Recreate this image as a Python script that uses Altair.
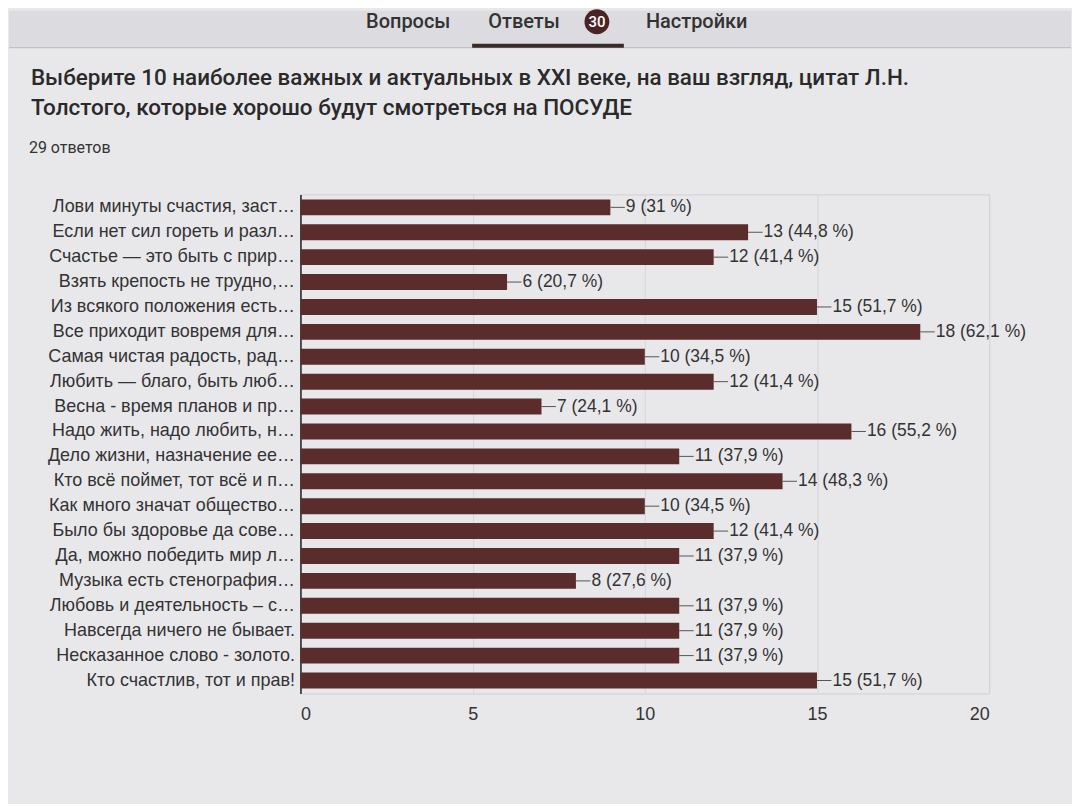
import altair as alt
import pandas as pd

labels = [
    "Лови минуты счастия, заст…",
    "Если нет сил гореть и разл…",
    "Счастье — это быть с прир…",
    "Взять крепость не трудно,…",
    "Из всякого положения есть…",
    "Все приходит вовремя для…",
    "Самая чистая радость, рад…",
    "Любить — благо, быть люб…",
    "Весна - время планов и пр…",
    "Надо жить, надо любить, н…",
    "Дело жизни, назначение ее…",
    "Кто всё поймет, тот всё и п…",
    "Как много значат общество…",
    "Было бы здоровье да сове…",
    "Да, можно победить мир л…",
    "Музыка есть стенография…",
    "Любовь и деятельность – с…",
    "Навсегда ничего не бывает.",
    "Несказанное слово - золото.",
    "Кто счастлив, тот и прав!",
]
counts = [9, 13, 12, 6, 15, 18, 10, 12, 7, 16, 11, 14, 10, 12, 11, 8, 11, 11, 11, 15]
percents = ["31 %", "44,8 %", "41,4 %", "20,7 %", "51,7 %", "62,1 %", "34,5 %", "41,4 %",
            "24,1 %", "55,2 %", "37,9 %", "48,3 %", "34,5 %", "41,4 %", "37,9 %", "27,6 %",
            "37,9 %", "37,9 %", "37,9 %", "51,7 %"]

title_lines = [
    "Выберите 10 наиболее важных и актуальных в XXI веке, на ваш взгляд, цитат Л.Н.",
    "Толстого, которые хорошо будут смотреться на ПОСУДЕ",
]
subtitle = "29 ответов"
tabs = ["Вопросы", "Ответы", "Настройки"]
badge = "30"

BG = "#e8e8eb"
BAR = "#5a2c2c"
TXT = "#333333"
FONT = "Liberation Sans"

df = pd.DataFrame({
    "label": labels,
    "count": counts,
    "text": [f"{c} ({p})" for c, p in zip(counts, percents)],
})
df["lead_end"] = df["count"] + 0.42

W, H = 690, 500
one = pd.DataFrame({"a": [0]})

y_enc = alt.Y("label:N", sort=labels, title=None,
              scale=alt.Scale(paddingInner=0.36, paddingOuter=0.2),
              axis=alt.Axis(labelFontSize=18, labelColor=TXT, labelFont=FONT, labelLimit=400,
                            ticks=False, domain=True, domainColor="#222", domainWidth=1.5,
                            labelPadding=6))
x_scale = alt.Scale(domain=[0, 20], nice=False)

bars = alt.Chart(df).mark_bar(color=BAR).encode(
    x=alt.X("count:Q", scale=x_scale, title=None,
            axis=alt.Axis(values=[0, 5, 10, 15, 20], labelFontSize=18, labelColor=TXT,
                          labelFont=FONT, grid=True, gridColor="#d6d6da", domain=False,
                          ticks=False, labelPadding=12)),
    y=y_enc,
)
leads = alt.Chart(df).mark_rule(color="#555", strokeWidth=1).encode(
    x="count:Q", x2="lead_end:Q", y=alt.Y("label:N", sort=labels, bandPosition=0.5))
vals = alt.Chart(df).mark_text(align="left", baseline="middle", dx=1, fontSize=17.5,
                               font=FONT, color=TXT).encode(
    x="lead_end:Q", y=alt.Y("label:N", sort=labels), text="text:N")

# page extent & header decorations
page_end = alt.Chart(one).mark_rule(color=BG, strokeWidth=1).encode(
    x=alt.value(-292), x2=alt.value(772), y=alt.value(609))
hdr_bg = alt.Chart(one).mark_rect(color="#dcdce0").encode(
    x=alt.value(-292), x2=alt.value(772), y=alt.value(-184), y2=alt.value(-148))
hdr_line = alt.Chart(one).mark_rule(color="#b8b8bc", strokeWidth=1).encode(
    x=alt.value(-292), x2=alt.value(772), y=alt.value(-147))
tab_df = pd.DataFrame({"t": tabs, "px": [108, 224, 397]})
tab_text = alt.Chart(tab_df).mark_text(fontSize=20, font="Roboto", fontWeight=500,
                                       color="#333", baseline="middle").encode(
    x=alt.X("px:Q", scale=None), y=alt.value(-173), text="t:N")
underline = alt.Chart(one).mark_rule(color="#3b2a2a", strokeWidth=4).encode(
    x=alt.value(172), x2=alt.value(324), y=alt.value(-149))
badge_c = alt.Chart(one).mark_point(filled=True, size=620, color="#4a2424", opacity=1).encode(
    x=alt.value(297), y=alt.value(-173))
badge_t = alt.Chart(pd.DataFrame({"t": [badge]})).mark_text(
    fontSize=15, font="Roboto", fontWeight=500, color="white", baseline="middle").encode(
    x=alt.value(297), y=alt.value(-173), text="t:N")
tl_df = pd.DataFrame({"t": title_lines, "py": [-117, -87]})
title_text = alt.Chart(tl_df).mark_text(fontSize=22.5, font="Roboto", fontWeight=500,
                                        color="#2a2a2a", align="left", baseline="middle").encode(
    x=alt.value(-270), y=alt.Y("py:Q", scale=None), text="t:N")
sub_text = alt.Chart(pd.DataFrame({"t": [subtitle]})).mark_text(
    fontSize=16, font="Roboto", color="#333", align="left", baseline="middle").encode(
    x=alt.value(-272), y=alt.value(-46), text="t:N")

chart = alt.layer(page_end, hdr_bg, hdr_line, underline, tab_text, badge_c, badge_t, title_text,
                  sub_text, bars, leads, vals).properties(
    width=W, height=H, background=BG, padding=0
).configure_view(stroke="#d0d0d4", strokeWidth=1)

chart.save("out.html", embed_options={"renderer": "svg", "actions": False})
